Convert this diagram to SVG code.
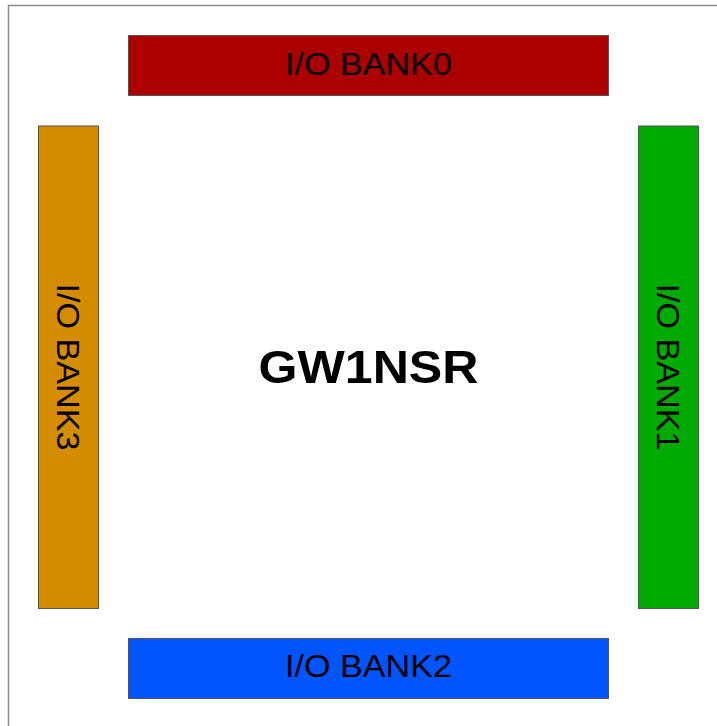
<svg xmlns="http://www.w3.org/2000/svg" width="717" height="726" viewBox="0 0 717 726">
<style>
.bank{stroke:#555555;stroke-width:1}
.lbl{font-family:"Liberation Sans",Arial,sans-serif;font-size:32px;fill:#000;text-anchor:middle}
.title{font-family:"Liberation Sans",Arial,sans-serif;font-size:47px;font-weight:bold;fill:#000;text-anchor:middle}
</style>
<rect x="0" y="0" width="717" height="726" fill="#ffffff"/>
<path d="M8.5,726 V5.5 H717" fill="none" stroke="#8c8c8c" stroke-width="1.5"/>
<g id="bank0">
<rect class="bank" x="128.5" y="35.5" width="480" height="60" fill="#aa0000"/>
<text class="lbl" x="368.5" y="75" textLength="167" lengthAdjust="spacingAndGlyphs">I/O BANK0</text>
</g>
<g id="bank2">
<rect class="bank" x="128.5" y="638.5" width="480" height="60" fill="#0055ff"/>
<text class="lbl" x="368.5" y="676.5" textLength="167" lengthAdjust="spacingAndGlyphs">I/O BANK2</text>
</g>
<g id="bank3">
<rect class="bank" x="38.5" y="126" width="60" height="482.5" fill="#d48c00"/>
<text class="lbl" transform="translate(57,367) rotate(90)" x="0" y="0" textLength="167" lengthAdjust="spacingAndGlyphs">I/O BANK3</text>
</g>
<g id="bank1">
<rect class="bank" x="638.5" y="126" width="60" height="482.5" fill="#00aa00"/>
<text class="lbl" transform="translate(657,367) rotate(90)" x="0" y="0" textLength="167" lengthAdjust="spacingAndGlyphs">I/O BANK1</text>
</g>
<g id="core">
<text class="title" x="368.5" y="383" textLength="220" lengthAdjust="spacingAndGlyphs">GW1NSR</text>
</g>
</svg>
